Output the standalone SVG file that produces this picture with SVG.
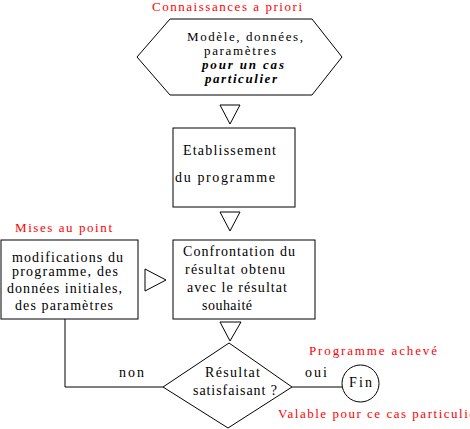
<svg xmlns="http://www.w3.org/2000/svg" width="470" height="429" viewBox="0 0 470 429">
<style>
.s{fill:#fff;stroke:#000;stroke-width:1}
text{font-family:'Liberation Serif','Times New Roman',serif}
.t{font-size:14px;fill:#000}
.h{font-size:13px;fill:#000}
.r{font-size:13px;fill:#ff0000}
.b{font-weight:bold;font-style:italic}
.c{fill:none;stroke:#000;stroke-width:1}
</style>
<rect width="470" height="429" fill="#fff"/>
<g id="connectors">
<polyline class="c" points="65,319 65,387 163,387"/>
<line class="c" x1="292" y1="387" x2="342" y2="387"/>
<polygon class="s" points="220,105 240,105 230,124"/>
<polygon class="s" points="220,212 240,212 230,231"/>
<polygon class="s" points="145,269 145,291 166,280"/>
<polygon class="s" points="220,322 241,322 230,341"/>
<text class="t" x="119" y="377" textLength="25" lengthAdjust="spacing">non</text>
<text class="t" x="305" y="377" textLength="22" lengthAdjust="spacing">oui</text>
</g>
<g id="node-apriori">
<text class="r" x="152" y="11" textLength="150" lengthAdjust="spacing">Connaissances a priori</text>
<polygon class="s" points="137,57 170,19 312,19 342,57 312,95 170,95"/>
<text class="h" x="187" y="41" textLength="116" lengthAdjust="spacing">Modèle, données,</text>
<text class="h" x="204" y="55" textLength="72" lengthAdjust="spacing">paramètres</text>
<text class="h b" x="202" y="69" textLength="82" lengthAdjust="spacing">pour un cas</text>
<text class="h b" x="205" y="83" textLength="72" lengthAdjust="spacing">particulier</text>
</g>
<g id="node-etablissement">
<rect class="s" x="173" y="128" width="122" height="79"/>
<text class="t" x="183" y="155" textLength="93" lengthAdjust="spacing">Etablissement</text>
<text class="t" x="175" y="182" textLength="100" lengthAdjust="spacing">du programme</text>
</g>
<g id="node-modifications">
<text class="r" x="15" y="232" textLength="97" lengthAdjust="spacing">Mises au point</text>
<rect class="s" x="1" y="240" width="137" height="79"/>
<text class="t" x="12" y="262" textLength="111" lengthAdjust="spacing">modifications du</text>
<text class="t" x="12" y="276" textLength="106" lengthAdjust="spacing">programme, des</text>
<text class="t" x="7" y="293" textLength="115" lengthAdjust="spacing">données initiales,</text>
<text class="t" x="15" y="310" textLength="98" lengthAdjust="spacing">des paramètres</text>
</g>
<g id="node-confrontation">
<rect class="s" x="173" y="240" width="142" height="79"/>
<text class="t" x="183" y="256" textLength="112" lengthAdjust="spacing">Confrontation du</text>
<text class="t" x="185" y="274" textLength="100" lengthAdjust="spacing">résultat obtenu</text>
<text class="t" x="187" y="292" textLength="100" lengthAdjust="spacing">avec le résultat</text>
<text class="t" x="202" y="310" textLength="50" lengthAdjust="spacing">souhaité</text>
</g>
<g id="node-decision">
<polygon class="s" points="229,343 292,387 228,428 163,387"/>
<text class="t" x="205" y="377" textLength="55" lengthAdjust="spacing">Résultat</text>
<text class="t" x="193" y="395" textLength="84" lengthAdjust="spacing">satisfaisant ?</text>
</g>
<g id="node-fin">
<text class="r" x="309" y="355" textLength="128" lengthAdjust="spacing">Programme achevé</text>
<circle class="s" cx="360.5" cy="383.5" r="18.5"/>
<text class="t" x="349" y="387" textLength="23" lengthAdjust="spacing">Fin</text>
<text class="r" x="278" y="418" textLength="203" lengthAdjust="spacing">Valable pour ce cas particulier</text>
</g>
</svg>
